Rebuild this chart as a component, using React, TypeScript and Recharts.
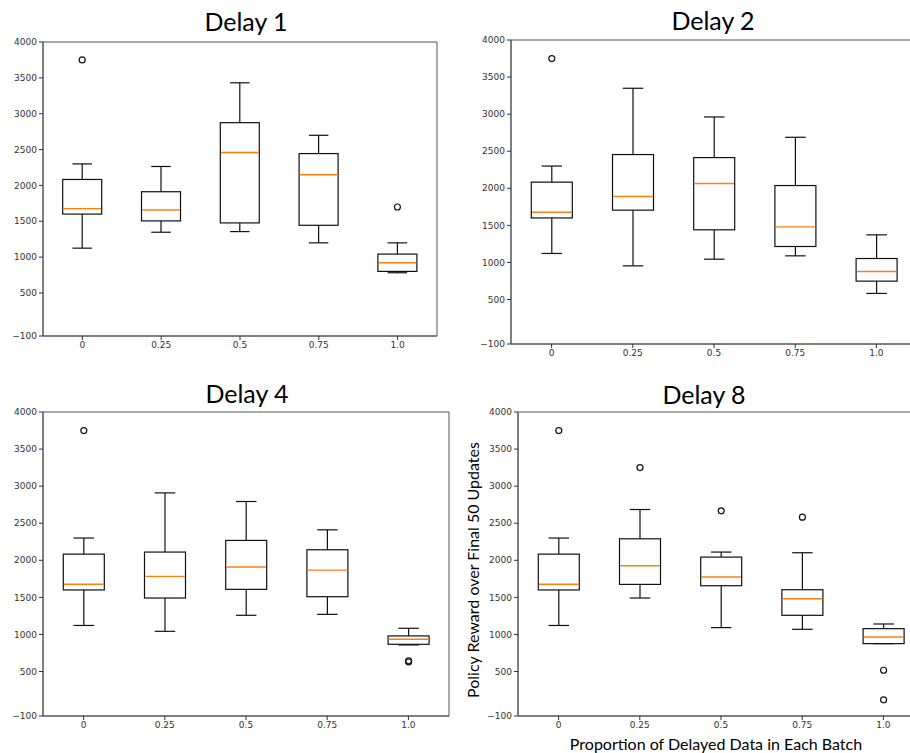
import React from 'react';
import { ComposedChart, Bar, XAxis, YAxis, ReferenceArea } from 'recharts';

const categories = ['0', '0.25', '0.5', '0.75', '1.0'];
const yTicks = [-100, 500, 1000, 1500, 2000, 2500, 3000, 3500, 4000];

// Delay 1
const d1Low = [1125, 1347, 1356, 1199, 782];
const d1Q1 = [1600, 1505, 1477, 1444, 801];
const d1Med = [1676, 1657, 2458, 2148, 921];
const d1Q3 = [2083, 1912, 2875, 2444, 1042];
const d1High = [2300, 2264, 3431, 2699, 1199];
const d1Fliers = [[3750], [], [], [], [1699]];

// Delay 2
const d2Low = [1121, 954, 1044, 1089, 582];
const d2Q1 = [1600, 1705, 1440, 1215, 748];
const d2Med = [1676, 1889, 2064, 1480, 878];
const d2Q3 = [2083, 2455, 2414, 2037, 1053];
const d2High = [2300, 3349, 2962, 2688, 1372];
const d2Fliers = [[3750], [], [], [], []];

// Delay 4
const d4Low = [1121, 1042, 1258, 1271, 858];
const d4Q1 = [1600, 1491, 1608, 1509, 867];
const d4Med = [1676, 1783, 1909, 1868, 935];
const d4Q3 = [2083, 2111, 2268, 2142, 980];
const d4High = [2300, 2909, 2793, 2411, 1083];
const d4Fliers = [[3750], [], [], [], [645, 630]];

// Delay 8
const d8Low = [1121, 1491, 1092, 1069, 876];
const d8Q1 = [1600, 1675, 1657, 1258, 876];
const d8Med = [1676, 1927, 1774, 1482, 966];
const d8Q3 = [2083, 2290, 2043, 1603, 1078];
const d8High = [2300, 2685, 2111, 2102, 1141];
const d8Fliers = [[3750], [3250], [2667], [2582], [517, 118]];

function build(low: number[], q1: number[], med: number[], q3: number[], high: number[], fliers: number[][]) {
  return categories.map((c, i) => ({
    cat: c,
    low: low[i],
    q1: q1[i],
    med: med[i],
    q3: q3[i],
    high: high[i],
    fliers: fliers[i],
    range: [low[i], high[i]],
  }));
}

const BoxShape = (props: any) => {
  const { x, y, width, height, payload } = props;
  if (!payload) return null;
  const top = Math.min(y, y + height);
  const bottom = Math.max(y, y + height);
  const lo = payload.low;
  const hi = payload.high;
  const py = (v: number) => bottom - ((v - lo) / (hi - lo)) * (bottom - top);
  const cx = x + width / 2;
  const capHalf = width / 4;
  const stroke = '#111';
  const sw = 1.2;
  return (
    <g>
      <line x1={cx} x2={cx} y1={py(hi)} y2={py(payload.q3)} stroke={stroke} strokeWidth={sw} />
      <line x1={cx} x2={cx} y1={py(payload.q1)} y2={py(lo)} stroke={stroke} strokeWidth={sw} />
      <line x1={cx - capHalf} x2={cx + capHalf} y1={py(hi)} y2={py(hi)} stroke={stroke} strokeWidth={sw} />
      <line x1={cx - capHalf} x2={cx + capHalf} y1={py(lo)} y2={py(lo)} stroke={stroke} strokeWidth={sw} />
      <rect x={x} y={py(payload.q3)} width={width} height={py(payload.q1) - py(payload.q3)} fill="none" stroke={stroke} strokeWidth={sw} />
      <line x1={x + 0.6} x2={x + width - 0.6} y1={py(payload.med)} y2={py(payload.med)} stroke="#ff7f0e" strokeWidth={1.4} />
      {payload.fliers.map((f: number, k: number) => (
        <circle key={k} cx={cx} cy={py(f)} r={3} fill="none" stroke={stroke} strokeWidth={sw} />
      ))}
    </g>
  );
};

const fmt = (v: number) => (v < 0 ? '\u2212' + Math.abs(v) : String(v));

const YW = 45;
const MT = 5;
const XH = 30;

function Panel({ data, left, top, w, h }: { data: any[]; left: number; top: number; w: number; h: number }) {
  const tickStyle = { fontSize: 9, fill: '#333', fontFamily: 'DejaVu Sans' };
  return (
    <div style={{ position: 'absolute', left: left - YW, top: top - MT }}>
      <ComposedChart
        width={YW + w + 5}
        height={MT + h + XH}
        data={data}
        margin={{ top: MT, right: 5, bottom: 0, left: 0 }}
        barCategoryGap="25%"
      >
        <XAxis
          dataKey="cat"
          type="category"
          height={XH}
          interval={0}
          tickSize={4}
          tickMargin={2}
          tick={tickStyle}
          axisLine={{ stroke: '#555' }}
          tickLine={{ stroke: '#333' }}
        />
        <YAxis
          type="number"
          domain={[-100, 4000]}
          ticks={yTicks}
          interval={0}
          allowDataOverflow
          width={YW}
          tickSize={4}
          tickMargin={2}
          tick={tickStyle}
          tickFormatter={fmt}
          axisLine={{ stroke: '#555' }}
          tickLine={{ stroke: '#333' }}
        />
        <ReferenceArea y1={-100} y2={4000} fill="none" stroke="#555" strokeWidth={1} ifOverflow="visible" />
        <Bar dataKey="range" shape={BoxShape} isAnimationActive={false} />
      </ComposedChart>
    </div>
  );
}

const titleStyle: React.CSSProperties = {
  position: 'absolute',
  fontFamily: 'Lato, "Open Sans", sans-serif',
  fontSize: 25,
  color: '#000',
  transform: 'translate(-50%, -50%)',
  whiteSpace: 'nowrap',
};

export default function App() {
  return (
    <div style={{ position: 'absolute', left: 0, top: 0, width: 910, height: 753, overflow: 'hidden', background: '#fff' }}>
      <Panel data={build(d1Low, d1Q1, d1Med, d1Q3, d1High, d1Fliers)} left={43} top={42} w={394} h={294} />
      <Panel data={build(d2Low, d2Q1, d2Med, d2Q3, d2High, d2Fliers)} left={511} top={40} w={406} h={304} />
      <Panel data={build(d4Low, d4Q1, d4Med, d4Q3, d4High, d4Fliers)} left={43} top={412} w={406} h={304} />
      <Panel data={build(d8Low, d8Q1, d8Med, d8Q3, d8High, d8Fliers)} left={518} top={412} w={406} h={304} />
      <div style={{ ...titleStyle, left: 246, top: 21 }}>Delay 1</div>
      <div style={{ ...titleStyle, left: 713, top: 20 }}>Delay 2</div>
      <div style={{ ...titleStyle, left: 247, top: 393 }}>Delay 4</div>
      <div style={{ ...titleStyle, left: 704, top: 394 }}>Delay 8</div>
      <div
        style={{
          position: 'absolute',
          left: 472,
          top: 570,
          transform: 'translate(-50%, -50%) rotate(-90deg)',
          fontFamily: 'Lato, "Open Sans", sans-serif',
          fontSize: 16,
          whiteSpace: 'nowrap',
          color: '#000',
        }}
      >
        Policy Reward over Final 50 Updates
      </div>
      <div
        style={{
          position: 'absolute',
          left: 716,
          top: 743,
          transform: 'translate(-50%, -50%)',
          fontFamily: 'Lato, "Open Sans", sans-serif',
          fontSize: 16,
          whiteSpace: 'nowrap',
          color: '#000',
        }}
      >
        Proportion of Delayed Data in Each Batch
      </div>
    </div>
  );
}
